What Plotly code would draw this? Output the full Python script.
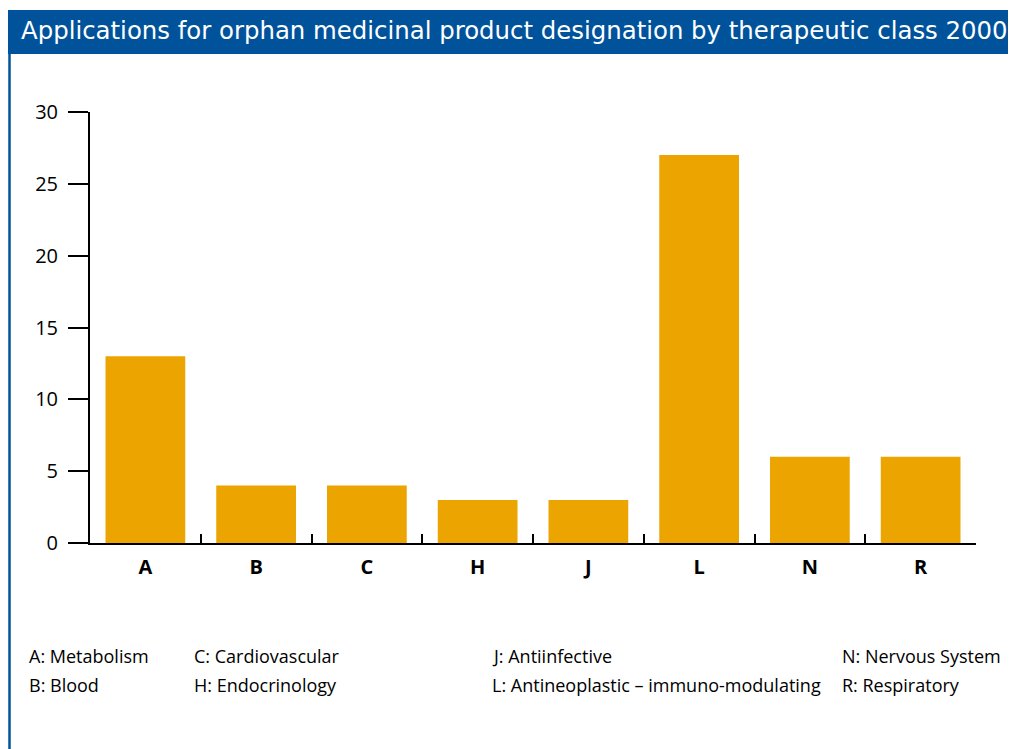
import plotly.graph_objects as go

categories = ["A", "B", "C", "H", "J", "L", "N", "R"]
values = [13, 4, 4, 3, 3, 27, 6, 6]
legend_col1 = ["A: Metabolism", "B: Blood"]
legend_col2 = ["C: Cardiovascular", "H: Endocrinology"]
legend_col3 = ["J: Antiinfective", "L: Antineoplastic – immuno-modulating"]
legend_col4 = ["N: Nervous System", "R: Respiratory"]
title_text = "Applications for orphan medicinal product designation by therapeutic class 2000"

# the page body adds an 8px offset; positions below are in figure coordinates
OFF = 8
W, H = 1016, 749
L, R, T, B = 90 - OFF, 1016 - (976 - OFF), 112 - OFF, 749 - (543 - OFF)
pw, ph = W - L - R, H - T - B

def px(x):
    return (x - OFF - L) / pw

def py(y):
    return (H - B - (y - OFF)) / ph

FONT = "'Open Sans', sans-serif"
TITLE_FONT = "'DejaVu Sans', sans-serif"
BLUE = "#00539B"
GOLD = "#EBA400"

fig = go.Figure(go.Bar(x=categories, y=values, marker_color=GOLD, marker_line_width=0, width=0.72))

shapes = [
    dict(type="rect", xref="paper", yref="paper", x0=px(8), x1=px(1030), y0=py(54), y1=py(10),
         fillcolor=BLUE, line_width=0, layer="below"),
    dict(type="line", xref="paper", yref="paper", x0=px(9.5), x1=px(9.5), y0=py(54), y1=py(760),
         line=dict(color=BLUE, width=2.5)),
]

annotations = [dict(text=title_text, xref="paper", yref="paper", x=px(19), y=py(30),
                    xanchor="left", yanchor="middle", showarrow=False,
                    font=dict(family=TITLE_FONT, size=24.4, color="white"))]

cols = [(27, legend_col1), (192, legend_col2), (490, legend_col3), (840, legend_col4)]
for xpos, items in cols:
    for i, t in enumerate(items):
        annotations.append(dict(text=t, xref="paper", yref="paper", x=px(xpos), y=py(656 + 29 * i),
                                xanchor="left", yanchor="middle", showarrow=False,
                                font=dict(family=FONT, size=18, color="black")))

fig.update_layout(
    width=W, height=H,
    margin=dict(l=L, r=R, t=T, b=B, pad=0),
    paper_bgcolor="white", plot_bgcolor="white",
    showlegend=False,
    shapes=shapes, annotations=annotations,
    xaxis=dict(showline=True, linecolor="black", linewidth=2, ticks="inside", tickson="boundaries",
               ticklen=9, tickwidth=2, tickcolor="black", showgrid=False, zeroline=False,
               tickfont=dict(family=FONT, size=20, color="black", weight="bold"),
               ticklabelstandoff=5, range=[-0.5, 7.5]),
    yaxis=dict(range=[0, 30], tickvals=[0, 5, 10, 15, 20, 25, 30], showline=True, linecolor="black",
               linewidth=2, ticks="outside", ticklen=20, tickwidth=2, tickcolor="black",
               showgrid=False, zeroline=False, ticklabelstandoff=6,
               tickfont=dict(family=FONT, size=20, color="black")),
    font=dict(family=FONT),
)

fig.write_html("out.html")
